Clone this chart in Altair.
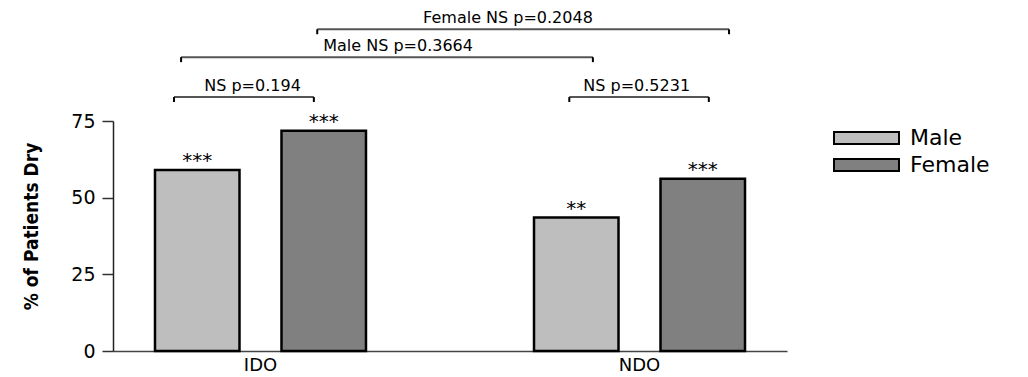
import altair as alt
import pandas as pd

# ---- data ----
groups = ["IDO", "IDO", "NDO", "NDO"]
sexes = ["Male", "Female", "Male", "Female"]
pct_dry = [59.0, 71.8, 43.5, 56.2]
stars = ["***", "***", "**", "***"]

group_order = ["IDO", "NDO"]
sex_order = ["Male", "Female"]
sex_colors = ["#bebebe", "#808080"]

# significance brackets: x as fraction of plot width, y in % units
br_labels = ["NS p=0.194", "NS p=0.5231", "Male NS p=0.3664", "Female NS p=0.2048"]
br_x1 = [0.0905, 0.677, 0.101, 0.303]
br_x2 = [0.298, 0.884, 0.712, 0.914]
br_y = [82.8, 82.8, 95.8, 104.9]
br_label_x = [0.207, 0.777, 0.423, 0.586]

FONT = "DejaVu Sans"
TITLE_FONT = "'DejaVu Sans Condensed', 'Liberation Sans', sans-serif"

bars_df = pd.DataFrame({"group": groups, "sex": sexes, "pct": pct_dry, "star": stars})
br_df = pd.DataFrame({"label": br_labels, "x1": br_x1, "x2": br_x2, "y": br_y, "lx": br_label_x})
tick_df = pd.DataFrame({
    "x": br_x1 + br_x2,
    "y": br_y + br_y,
})

x_scale = alt.Scale(paddingInner=0.4433, paddingOuter=0.1108)
xoff_scale = alt.Scale(paddingInner=0.332, paddingOuter=0)
y_scale = alt.Scale(domain=[0, 75], nice=False, zero=True)
lin_scale = alt.Scale(domain=[0, 1], nice=False, zero=False)

bars = alt.Chart(bars_df).mark_bar(stroke="black", strokeWidth=2.5).encode(
    x=alt.X("group:N", sort=group_order, scale=x_scale,
            axis=alt.Axis(title=None, ticks=False, labelAngle=0, labelFont=FONT,
                          labelFontSize=18, labelColor="black", labelPadding=5,
                          domainColor="#444", domainWidth=1.5)),
    xOffset=alt.XOffset("sex:N", sort=sex_order, scale=xoff_scale),
    y=alt.Y("pct:Q", scale=y_scale,
            axis=alt.Axis(values=[0, 25, 50, 75], grid=False, title="% of Patients Dry",
                          titleFont=TITLE_FONT, titleFontSize=19, titleY=105,
                          titleFontWeight="bold", titleColor="black", titlePadding=29,
                          labelFont=FONT, labelFontSize=19, labelColor="black",
                          labelPadding=7, tickSize=11, tickColor="#333", tickWidth=1.5,
                          domainColor="#222", domainWidth=1.5)),
    color=alt.Color("sex:N", scale=alt.Scale(domain=sex_order, range=sex_colors),
                    legend=alt.Legend(title=None, orient="none", legendX=720, legendY=9,
                                      symbolType="M-1,-0.185L1,-0.185L1,0.185L-1,0.185Z",
                                      symbolSize=4225, symbolStrokeColor="black",
                                      symbolStrokeWidth=2, symbolOpacity=1,
                                      clipHeight=16, rowPadding=5, padding=0,
                                      labelFont=FONT, labelFontSize=22, labelColor="black",
                                      labelOffset=10)),
)

star_text = alt.Chart(bars_df).mark_text(font=FONT, fontSize=20, baseline="alphabetic", dy=-3,
                                         color="black").encode(
    x=alt.X("group:N", sort=group_order, scale=x_scale, axis=None),
    xOffset=alt.XOffset("sex:N", sort=sex_order, scale=xoff_scale),
    y=alt.Y("pct:Q", scale=y_scale),
    text="star:N",
)

br_lines = alt.Chart(br_df).mark_rule(color="#555", strokeWidth=2).encode(
    x=alt.X("x1:Q", scale=lin_scale, axis=None),
    x2="x2:Q",
    y=alt.Y("y:Q", scale=y_scale),
)

br_ticks = alt.Chart(tick_df).transform_calculate(y2="datum.y - 1.6").mark_rule(
    color="black", strokeWidth=2).encode(
    x=alt.X("x:Q", scale=lin_scale, axis=None),
    y=alt.Y("y:Q", scale=y_scale),
    y2="y2:Q",
)

br_text = alt.Chart(br_df).mark_text(font=FONT, fontSize=16, baseline="middle", dy=-11,
                                     color="black").encode(
    x=alt.X("lx:Q", scale=lin_scale, axis=None),
    y=alt.Y("y:Q", scale=y_scale),
    text="label:N",
)

chart = alt.layer(bars, star_text, br_lines, br_ticks, br_text).resolve_scale(
    x="independent"
).properties(
    width=674, height=230,
    autosize=alt.AutoSizeParams(type="none"),
    padding={"left": 105, "top": 113, "right": 233, "bottom": 22},
).configure_view(stroke=None)

chart.save("out.html", embed_options={"renderer": "svg", "actions": False})
